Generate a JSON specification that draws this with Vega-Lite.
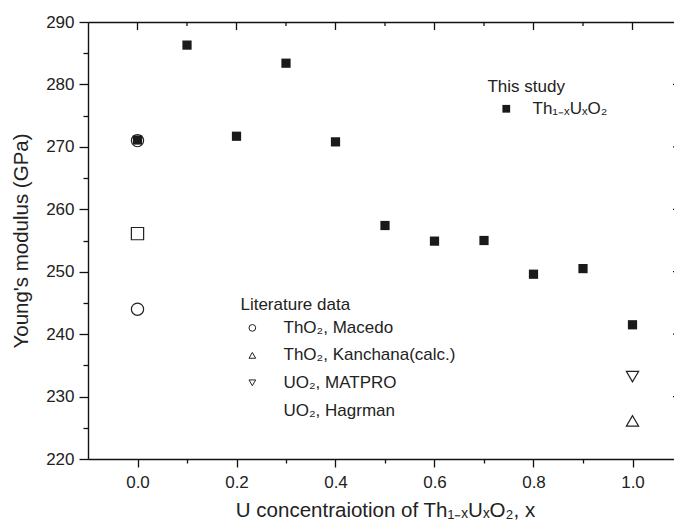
{
  "$schema": "https://vega.github.io/schema/vega-lite/v6.json",
  "width": 594,
  "height": 437,
  "autosize": {"type": "none"},
  "padding": {"left": 88, "top": 22, "right": 0, "bottom": 68},
  "background": "white",
  "config": {
    "view": {"stroke": null},
    "font": "Liberation Sans",
    "axis": {
      "grid": false,
      "domainColor": "#111",
      "tickColor": "#111",
      "domainWidth": 1.4,
      "tickWidth": 1.3,
      "labelColor": "#222",
      "titleColor": "#222",
      "labelFont": "Liberation Sans",
      "titleFont": "Liberation Sans",
      "titleFontWeight": "normal",
      "labelFontSize": 17,
      "titleFontSize": 20.5
    }
  },
  "datasets": {
    "study": [
      {"x": 0.0, "E": 271.1},
      {"x": 0.1, "E": 286.3},
      {"x": 0.2, "E": 271.7},
      {"x": 0.3, "E": 283.4},
      {"x": 0.4, "E": 270.8},
      {"x": 0.5, "E": 257.4},
      {"x": 0.6, "E": 254.9},
      {"x": 0.7, "E": 255.0},
      {"x": 0.8, "E": 249.6},
      {"x": 0.9, "E": 250.5},
      {"x": 1.0, "E": 241.5}
    ],
    "lit": [
      {"x": 0.0, "E": 271.0, "src": "ThO2, Macedo"},
      {"x": 0.0, "E": 244.0, "src": "ThO2, Macedo"},
      {"x": 0.0, "E": 256.1, "src": "UO2, Hagrman"},
      {"x": 1.0, "E": 233.2, "src": "UO2, MATPRO"},
      {"x": 1.0, "E": 226.1, "src": "ThO2, Kanchana(calc.)"}
    ],
    "legsym": [
      {"x": 0.232, "E": 241.0, "src": "ThO2, Macedo"},
      {"x": 0.232, "E": 236.6, "src": "ThO2, Kanchana(calc.)"},
      {"x": 0.232, "E": 232.2, "src": "UO2, MATPRO"}
    ],
    "legsq": [
      {"x": 0.745, "E": 276.1}
    ],
    "legtext": [
      {"x": 0.707, "E": 279.6, "label": "This study"},
      {"x": 0.798, "E": 276.0, "label": "Th₁₋ₓUₓO₂"},
      {"x": 0.208, "E": 244.7, "label": "Literature data"},
      {"x": 0.295, "E": 241.0, "label": "ThO₂, Macedo"},
      {"x": 0.295, "E": 236.6, "label": "ThO₂, Kanchana(calc.)"},
      {"x": 0.295, "E": 232.2, "label": "UO₂, MATPRO"},
      {"x": 0.295, "E": 227.7, "label": "UO₂, Hagrman"}
    ],
    "xticks": [
      {"x": 0.0, "kind": "major"}, {"x": 0.1, "kind": "minor"},
      {"x": 0.2, "kind": "major"}, {"x": 0.3, "kind": "minor"},
      {"x": 0.4, "kind": "major"}, {"x": 0.5, "kind": "minor"},
      {"x": 0.6, "kind": "major"}, {"x": 0.7, "kind": "minor"},
      {"x": 0.8, "kind": "major"}, {"x": 0.9, "kind": "minor"},
      {"x": 1.0, "kind": "major"}
    ],
    "yticks": [
      {"E": 225, "kind": "minor"}, {"E": 230, "kind": "major"},
      {"E": 235, "kind": "minor"}, {"E": 240, "kind": "major"},
      {"E": 245, "kind": "minor"}, {"E": 250, "kind": "major"},
      {"E": 255, "kind": "minor"}, {"E": 260, "kind": "major"},
      {"E": 265, "kind": "minor"}, {"E": 270, "kind": "major"},
      {"E": 275, "kind": "minor"}, {"E": 280, "kind": "major"},
      {"E": 285, "kind": "minor"}
    ]
  },
  "layer": [
    {
      "data": {"name": "lit"},
      "mark": {"type": "point", "filled": false, "stroke": "#222", "strokeWidth": 1.2, "size": 150, "opacity": 1},
      "encoding": {
        "x": {
          "field": "x", "type": "quantitative",
          "scale": {"domain": [-0.1, 1.1], "nice": false, "zero": false},
          "axis": {
            "orient": "bottom",
            "title": "U concentraiotion of Th₁₋ₓUₓO₂, x",
            "titlePadding": 10,
            "values": [0, 0.1, 0.2, 0.3, 0.4, 0.5, 0.6, 0.7, 0.8, 0.9, 1.0],
            "labelExpr": "round(datum.value*10)%2==0 ? format(datum.value, '.1f') : ''",
            "labelPadding": 7,
            "tickSize": {"condition": {"test": "round(datum.value*10)%2==0", "value": 8}, "value": 4}
          }
        },
        "y": {
          "field": "E", "type": "quantitative",
          "scale": {"domain": [220, 290], "nice": false, "zero": false},
          "axis": {
            "orient": "left",
            "title": "Young's modulus (GPa)",
            "titlePadding": 14,
            "values": [220, 225, 230, 235, 240, 245, 250, 255, 260, 265, 270, 275, 280, 285, 290],
            "labelExpr": "datum.value%10==0 ? datum.label : ''",
            "labelPadding": 5,
            "tickSize": {"condition": {"test": "datum.value%10==0", "value": 9}, "value": 5}
          }
        },
        "shape": {
          "field": "src", "type": "nominal", "legend": null,
          "scale": {
            "domain": ["ThO2, Macedo", "ThO2, Kanchana(calc.)", "UO2, MATPRO", "UO2, Hagrman"],
            "range": ["circle", "triangle-up", "triangle-down", "square"]
          }
        }
      }
    },
    {
      "data": {"name": "study"},
      "mark": {"type": "point", "shape": "square", "filled": true, "color": "#1a1a1a", "size": 85, "opacity": 1},
      "encoding": {
        "x": {
          "field": "x", "type": "quantitative",
          "scale": {"domain": [-0.1, 1.1], "nice": false, "zero": false},
          "axis": {
            "orient": "top", "title": "x", "titleColor": "white", "titleFontSize": 10,
            "domain": true, "ticks": true, "tickSize": 8, "tickColor": "white",
            "labelColor": "white", "labelFontSize": 10
          }
        },
        "y": {
          "field": "E", "type": "quantitative",
          "scale": {"domain": [220, 290], "nice": false, "zero": false},
          "axis": {
            "orient": "right", "title": "y", "titleColor": "white", "titleFontSize": 10,
            "domain": true, "ticks": true, "tickSize": 8, "tickColor": "white",
            "labelColor": "white", "labelFontSize": 10
          }
        }
      }
    },
    {
      "data": {"name": "xticks"},
      "mark": {"type": "tick", "orient": "vertical", "color": "#111", "thickness": 1.3, "clip": true, "opacity": 1},
      "encoding": {
        "x": {"field": "x", "type": "quantitative", "axis": null, "scale": {"domain": [-0.1, 1.1], "nice": false, "zero": false}},
        "y": {"datum": 290, "type": "quantitative", "axis": null, "scale": {"domain": [220, 290], "nice": false, "zero": false}},
        "size": {"field": "kind", "type": "nominal", "legend": null, "scale": {"domain": ["major", "minor"], "range": [16, 8]}}
      }
    },
    {
      "data": {"name": "yticks"},
      "mark": {"type": "tick", "orient": "horizontal", "color": "#111", "thickness": 1.3, "clip": true, "opacity": 1},
      "encoding": {
        "x": {"datum": 1.1, "type": "quantitative", "axis": null, "scale": {"domain": [-0.1, 1.1], "nice": false, "zero": false}},
        "y": {"field": "E", "type": "quantitative", "axis": null, "scale": {"domain": [220, 290], "nice": false, "zero": false}},
        "size": {"field": "kind", "type": "nominal", "legend": null, "scale": {"domain": ["major", "minor"], "range": [18, 8]}}
      }
    },
    {
      "data": {"name": "legsym"},
      "mark": {"type": "point", "filled": false, "stroke": "#222", "strokeWidth": 1, "size": 45, "opacity": 1},
      "encoding": {
        "x": {"field": "x", "type": "quantitative", "axis": null, "scale": {"domain": [-0.1, 1.1], "nice": false, "zero": false}},
        "y": {"field": "E", "type": "quantitative", "axis": null, "scale": {"domain": [220, 290], "nice": false, "zero": false}},
        "shape": {
          "field": "src", "type": "nominal", "legend": null,
          "scale": {
            "domain": ["ThO2, Macedo", "ThO2, Kanchana(calc.)", "UO2, MATPRO", "UO2, Hagrman"],
            "range": ["circle", "triangle-up", "triangle-down", "square"]
          }
        }
      }
    },
    {
      "data": {"name": "legsq"},
      "mark": {"type": "square", "color": "#1a1a1a", "size": 60, "opacity": 1},
      "encoding": {
        "x": {"field": "x", "type": "quantitative", "axis": null, "scale": {"domain": [-0.1, 1.1], "nice": false, "zero": false}},
        "y": {"field": "E", "type": "quantitative", "axis": null, "scale": {"domain": [220, 290], "nice": false, "zero": false}}
      }
    },
    {
      "data": {"name": "legtext"},
      "mark": {"type": "text", "align": "left", "baseline": "middle", "fontSize": 17, "color": "#222", "font": "Liberation Sans"},
      "encoding": {
        "x": {"field": "x", "type": "quantitative", "axis": null, "scale": {"domain": [-0.1, 1.1], "nice": false, "zero": false}},
        "y": {"field": "E", "type": "quantitative", "axis": null, "scale": {"domain": [220, 290], "nice": false, "zero": false}},
        "text": {"field": "label"}
      }
    }
  ],
  "resolve": {
    "scale": {"x": "independent", "y": "independent", "shape": "independent", "size": "independent"},
    "axis": {"x": "independent", "y": "independent"}
  }
}
